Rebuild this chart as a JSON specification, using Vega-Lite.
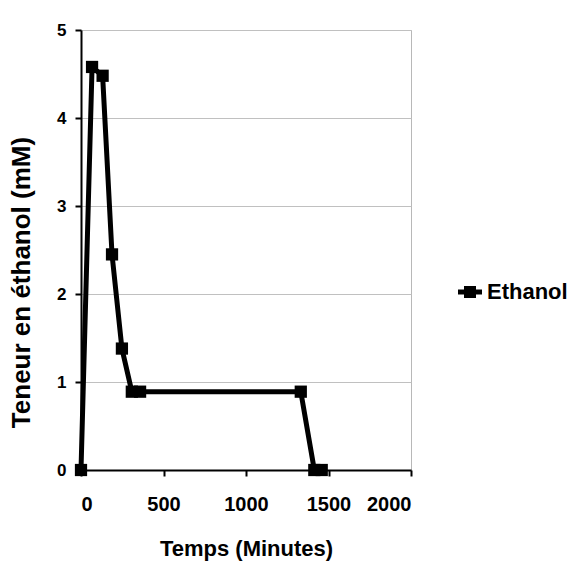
{
  "$schema": "https://vega.github.io/schema/vega-lite/v6.json",
  "autosize": "none",
  "width": 330,
  "height": 440,
  "padding": {"left": 81, "top": 30, "right": 159, "bottom": 96},
  "background": "white",
  "config": {
    "view": {"stroke": "#b8b8b8", "strokeWidth": 1},
    "font": "Liberation Sans"
  },
  "data": {
    "values": [
      {"t": 0, "v": 0, "s": "Ethanol"},
      {"t": 67, "v": 4.58, "s": "Ethanol"},
      {"t": 131, "v": 4.48, "s": "Ethanol"},
      {"t": 188, "v": 2.45, "s": "Ethanol"},
      {"t": 248, "v": 1.38, "s": "Ethanol"},
      {"t": 308, "v": 0.89, "s": "Ethanol"},
      {"t": 358, "v": 0.89, "s": "Ethanol"},
      {"t": 1332, "v": 0.89, "s": "Ethanol"},
      {"t": 1414, "v": 0, "s": "Ethanol"},
      {"t": 1459, "v": 0, "s": "Ethanol"}
    ]
  },
  "mark": {
    "type": "line",
    "strokeWidth": 5,
    "point": {"shape": "square", "size": 150, "filled": true, "opacity": 1}
  },
  "encoding": {
    "x": {
      "field": "t", "type": "quantitative",
      "scale": {"domain": [0, 2000], "nice": false, "zero": true},
      "axis": {
        "title": "Temps (Minutes)", "values": [0, 500, 1000, 1500, 2000], "format": "d",
        "grid": false, "domainColor": "black", "domainWidth": 2,
        "tickColor": "black", "tickWidth": 2, "tickSize": 6,
        "labelFont": "Liberation Sans", "labelFontWeight": "bold", "labelFontSize": 20, "labelColor": "black", "labelPadding": 18,
        "titleFont": "Liberation Sans", "titleFontWeight": "bold", "titleFontSize": 22, "titleColor": "black", "titlePadding": 24
      }
    },
    "y": {
      "field": "v", "type": "quantitative",
      "scale": {"domain": [0, 5], "nice": false},
      "axis": {
        "title": "Teneur en éthanol (mM)", "values": [0, 1, 2, 3, 4, 5], "format": "d",
        "grid": true, "gridColor": "#c0c0c0", "gridWidth": 1,
        "domainColor": "black", "domainWidth": 2,
        "tickColor": "black", "tickWidth": 2, "tickSize": 6,
        "labelFont": "Liberation Sans", "labelFontWeight": "bold", "labelFontSize": 17, "labelColor": "black", "labelPadding": 9,
        "titleFont": "Liberation Sans", "titleFontWeight": "bold", "titleFontSize": 26, "titleColor": "black", "titlePadding": 22, "titleY": 252
      }
    },
    "color": {
      "field": "s", "type": "nominal",
      "scale": {"range": ["black"]},
      "legend": {
        "title": null, "orient": "none", "legendX": 377, "legendY": 250,
        "symbolType": "M-1,-0.2H1V0.2H-1Z M-0.5,-0.5H0.5V0.5H-0.5Z",
        "symbolSize": 576, "symbolFillColor": "black", "symbolStrokeColor": "black", "symbolStrokeWidth": 0,
        "labelFont": "Liberation Sans", "labelFontWeight": "bold", "labelFontSize": 22, "labelColor": "black", "labelOffset": 5
      }
    }
  }
}
